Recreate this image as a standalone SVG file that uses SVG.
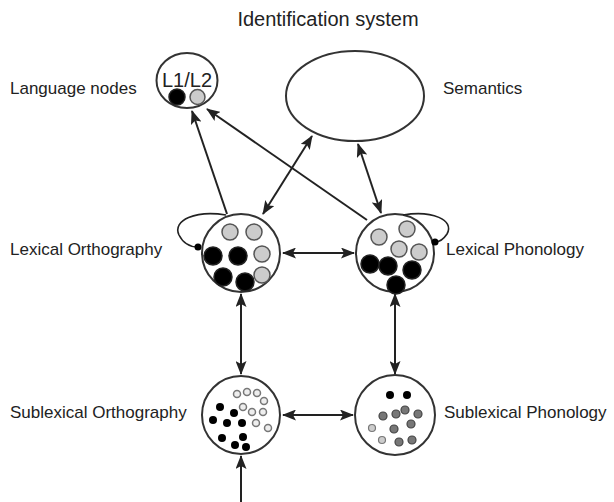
<svg xmlns="http://www.w3.org/2000/svg" width="614" height="502" viewBox="0 0 614 502">
<defs>
<marker id="ah" viewBox="0 0 14 11" refX="13" refY="5.5" markerWidth="14" markerHeight="11" markerUnits="userSpaceOnUse" orient="auto-start-reverse">
<path d="M0,0 L14,5.5 L0,11 L3,5.5 z" fill="#222"/>
</marker>
</defs>
<style>
text{font-family:"Liberation Sans",Arial,sans-serif;fill:#222}
.lbl{font-size:17px}
.node{fill:#fff;stroke:#333;stroke-width:2}
.blk{fill:#000;stroke:#222;stroke-width:1.5}
.gry{fill:#ccc;stroke:#555;stroke-width:1.5}
.sb{fill:#000}
.so{fill:#eee;stroke:#777;stroke-width:1.5}
.sd{fill:#777;stroke:#444;stroke-width:1.2}
.sl{fill:#ccc;stroke:#777;stroke-width:1.2}
.con{fill:none;stroke:#222;stroke-width:2}
.arr{marker-end:url(#ah)}
.darr{marker-start:url(#ah);marker-end:url(#ah)}
</style>
<rect width="614" height="502" fill="#fff"/>
<text x="328" y="26" font-size="20" text-anchor="middle">Identification system</text>

<g id="language-nodes">
<ellipse class="node" cx="187" cy="80.5" rx="30.5" ry="27.5"/>
<text x="187" y="87" font-size="20" text-anchor="middle">L1/L2</text>
<circle class="blk" cx="177" cy="97" r="8"/>
<circle class="gry" cx="197.5" cy="97" r="7.5"/>
<text class="lbl" x="10" y="94">Language nodes</text>
</g>

<g id="semantics">
<ellipse class="node" cx="355" cy="96" rx="69" ry="45"/>
<text class="lbl" x="443" y="94">Semantics</text>
</g>

<g id="lexical-orthography">
<circle class="node" cx="241" cy="253" r="39"/>
<circle class="gry" cx="230" cy="232" r="8"/>
<circle class="gry" cx="254" cy="232" r="8"/>
<circle class="gry" cx="262" cy="254" r="8"/>
<circle class="gry" cx="262" cy="275" r="8"/>
<circle class="blk" cx="213" cy="256" r="9"/>
<circle class="blk" cx="238" cy="256" r="9"/>
<circle class="blk" cx="223" cy="277" r="9"/>
<circle class="blk" cx="245" cy="282" r="9"/>
<text class="lbl" x="10" y="255">Lexical Orthography</text>
</g>

<g id="lexical-phonology">
<circle class="node" cx="395" cy="253" r="39"/>
<circle class="gry" cx="379" cy="237" r="8"/>
<circle class="gry" cx="407" cy="229" r="8"/>
<circle class="gry" cx="399" cy="249" r="8"/>
<circle class="gry" cx="419" cy="252" r="8"/>
<circle class="blk" cx="370" cy="264" r="9"/>
<circle class="blk" cx="388" cy="266" r="9"/>
<circle class="blk" cx="412" cy="270" r="9"/>
<circle class="blk" cx="396" cy="285" r="9"/>
<text class="lbl" x="446" y="255">Lexical Phonology</text>
</g>

<g id="sublexical-orthography">
<circle class="node" cx="241" cy="415" r="39"/>
<circle class="sb" cx="220" cy="407" r="4"/>
<circle class="sb" cx="234" cy="413" r="4"/>
<circle class="sb" cx="213" cy="420" r="4"/>
<circle class="sb" cx="227" cy="423" r="4"/>
<circle class="sb" cx="242" cy="423" r="4"/>
<circle class="sb" cx="222" cy="438" r="4"/>
<circle class="sb" cx="243" cy="437" r="4"/>
<circle class="sb" cx="235" cy="445" r="4"/>
<circle class="sb" cx="246" cy="447" r="4"/>
<circle class="so" cx="237" cy="394" r="3.5"/>
<circle class="so" cx="247" cy="392" r="3.5"/>
<circle class="so" cx="257" cy="393" r="3.5"/>
<circle class="so" cx="264" cy="401" r="3.5"/>
<circle class="so" cx="243" cy="407" r="3.5"/>
<circle class="so" cx="252" cy="412" r="3.5"/>
<circle class="so" cx="263" cy="412" r="3.5"/>
<circle class="so" cx="256" cy="423" r="3.5"/>
<circle class="so" cx="268" cy="428" r="3.5"/>
<text class="lbl" x="10" y="418">Sublexical Orthography</text>
</g>

<g id="sublexical-phonology">
<circle class="node" cx="395" cy="415" r="40"/>
<circle class="sb" cx="390" cy="395" r="4"/>
<circle class="sb" cx="407" cy="395" r="4"/>
<circle class="sd" cx="383" cy="416" r="4"/>
<circle class="sd" cx="396" cy="414" r="4"/>
<circle class="sd" cx="405" cy="410" r="4"/>
<circle class="sd" cx="418" cy="414" r="4"/>
<circle class="sd" cx="411" cy="424" r="4"/>
<circle class="sd" cx="394" cy="429" r="4"/>
<circle class="sd" cx="399" cy="442" r="4"/>
<circle class="sd" cx="412" cy="440" r="4"/>
<circle class="sl" cx="372" cy="428" r="3.5"/>
<circle class="sl" cx="382" cy="440" r="3.5"/>
<text class="lbl" x="444" y="418">Sublexical Phonology</text>
</g>

<g id="connectors">
<path class="con arr" d="M227,214 L192,111"/>
<path class="con arr" d="M367,220 L207,109"/>
<path class="con darr" d="M263,214 L312,136"/>
<path class="con darr" d="M358,144 L381,213"/>
<path class="con darr" d="M283,253 L354,253"/>
<path class="con darr" d="M241,294 L241,374"/>
<path class="con darr" d="M395,294 L395,374"/>
<path class="con darr" d="M283,415 L353,415"/>
<path class="con arr" d="M241,502 L241,456"/>
<path class="con" style="stroke-width:1.6" d="M226,215 C196,210 172,220 179,235 C184,245 192,247 198,247"/>
<circle cx="198" cy="247" r="3.5" fill="#000"/>
<path class="con" style="stroke-width:1.6" d="M403,215 C432,210 455,220 447,234 C443,240 440,242 435,242"/>
<circle cx="435" cy="242" r="3.5" fill="#000"/>
</g>
</svg>
